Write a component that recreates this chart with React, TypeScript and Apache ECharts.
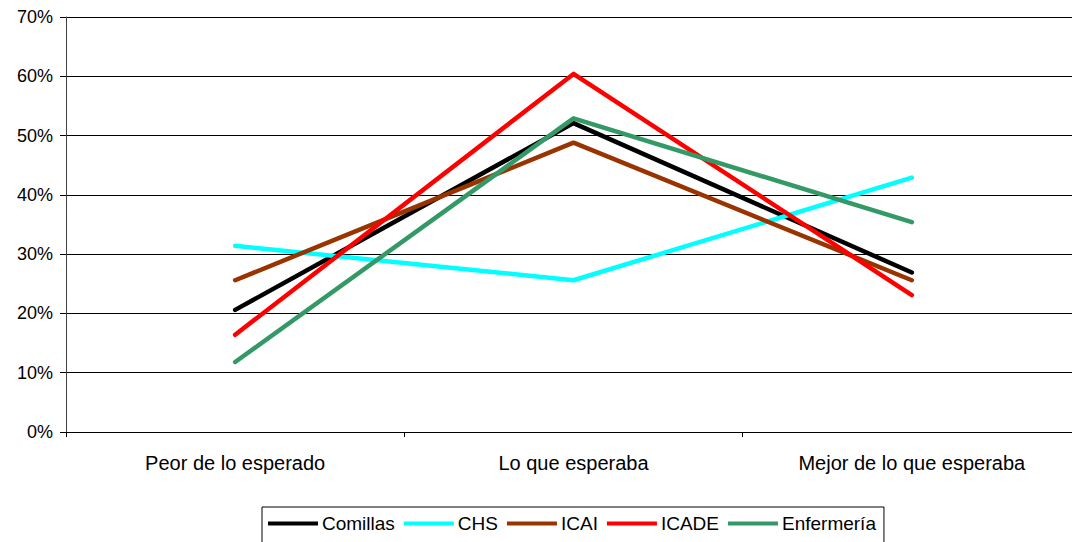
import React, { useEffect, useRef } from "react";
import * as echarts from "echarts";

const categories = ["Peor de lo esperado", "Lo que esperaba", "Mejor de lo que esperaba"];
const seriesNames = ["Comillas", "CHS", "ICAI", "ICADE", "Enfermería"];
const comillas = [20.6, 52.1, 26.9];
const chs = [31.4, 25.6, 42.9];
const icai = [25.6, 48.8, 25.6];
const icade = [16.4, 60.4, 23.1];
const enfermeria = [11.8, 52.9, 35.4];
const seriesColors = ["#000000", "#00FFFF", "#993300", "#FF0000", "#339966"];
const yTicks = [0, 10, 20, 30, 40, 50, 60, 70];

export default function App() {
  const ref = useRef<HTMLDivElement>(null);
  useEffect(() => {
    if (!ref.current) return;
    const chart = echarts.init(ref.current, undefined, { renderer: "svg" });
    const values = [comillas, chs, icai, icade, enfermeria];
    const font = "'Liberation Sans', Arial, sans-serif";
    chart.setOption({
      animation: false,
      backgroundColor: "#ffffff",
      textStyle: { fontFamily: font },
      grid: { left: 66, right: 9, top: 17, bottom: 110, containLabel: false },
      legend: {
        left: 262,
        top: 507,
        padding: [7, 8, 12, 6],
        borderColor: "#000000",
        borderWidth: 1,
        itemWidth: 50,
        itemHeight: 4,
        itemGap: 9,
        icon: "rect",
        data: seriesNames,
        textStyle: { fontSize: 19, color: "#000000", fontFamily: font, padding: [0, 0, 0, -1] },
      },
      xAxis: {
        type: "category",
        data: categories,
        boundaryGap: true,
        axisLine: { lineStyle: { color: "#000000", width: 1 } },
        axisTick: { show: true, length: 5, lineStyle: { color: "#000000" } },
        axisLabel: { fontSize: 20, color: "#000000", margin: 21, fontFamily: font },
        splitLine: { show: false },
      },
      yAxis: {
        type: "value",
        min: yTicks[0],
        max: yTicks[yTicks.length - 1],
        interval: 10,
        axisLine: { show: true, lineStyle: { color: "#404040", width: 1 } },
        axisTick: { show: true, length: 6, lineStyle: { color: "#000000" } },
        axisLabel: { fontSize: 18, color: "#000000", margin: 13, formatter: "{value}%", fontFamily: font },
        splitLine: { show: true, lineStyle: { color: "#000000", width: 1 } },
      },
      series: seriesNames.map((name, i) => ({
        name,
        type: "line",
        data: values[i],
        symbol: "none",
        color: seriesColors[i],
        lineStyle: { color: seriesColors[i], width: 4.5, cap: "round", join: "round" },
      })),
    });
    return () => chart.dispose();
  }, []);
  return (
    <div
      ref={ref}
      style={{ position: "fixed", left: 0, top: 0, width: 1090, height: 542, background: "#fff" }}
    />
  );
}
